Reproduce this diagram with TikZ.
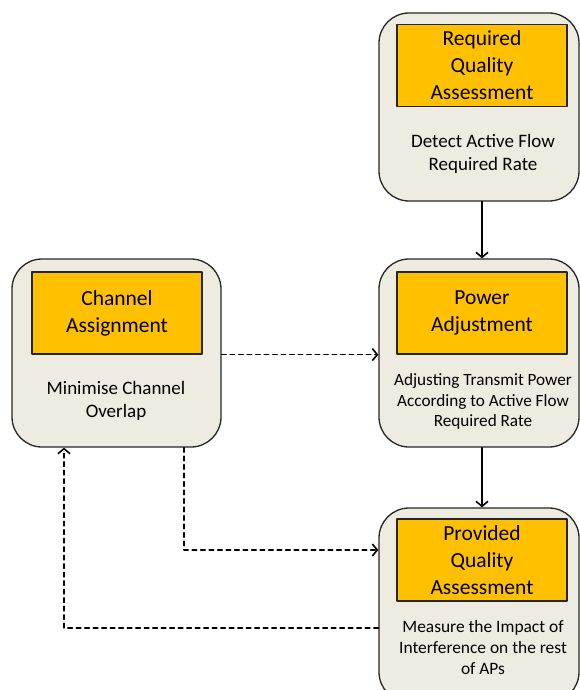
\documentclass[tikz,border=0pt]{standalone}
\usepackage{fontspec}
\setmainfont{Carlito}
\usetikzlibrary{arrows.meta}
\definecolor{panelgray}{RGB}{238,236,225}
\definecolor{headorange}{RGB}{255,192,0}

\begin{document}
\begin{tikzpicture}[line cap=round,line join=round,>={Straight Barb[length=5pt,width=12pt]},x=1pt,y=-1pt,
  panel/.style={draw=black!85,fill=panelgray,line width=1.3pt,rounded corners=30pt,minimum width=200pt,minimum height=188pt,inner sep=0pt},
  head/.style={draw=black!85,fill=headorange,line width=1.2pt,minimum width=170pt,minimum height=82pt,align=center,inner sep=0pt,font=\fontsize{21.5}{27}\selectfont},
  note/.style={align=center,inner sep=0pt,font=\fontsize{19}{23}\selectfont},
  link/.style={line width=1.6pt,->},
  dlink/.style={line width=1.6pt,->,dash pattern=on 4.5pt off 4pt}]
\useasboundingbox (0,0) rectangle (580,690);
\clip (0,0) rectangle (580,690);
\node[panel] (reqbox) at (479,107) {};
\node[head] (reqhead) at (482,65.5) {Required\\Quality\\Assessment};
\node[note] (reqnote) at (483,153.5) {Detect Active Flow\\Required Rate};
\node[panel] (powbox) at (479,353) {};
\node[head] (powhead) at (482,313) {Power\\Adjustment};
\node[note,font=\fontsize{17.2}{20.5}\selectfont] (pownote) at (483,401.5) {Adjusting Transmit Power\\According to Active Flow\\Required Rate};
\node[panel,minimum width=209pt] (chanbox) at (116.5,353) {};
\node[head] (chanhead) at (117,313) {Channel\\Assignment};
\node[note] (channote) at (116,400.5) {Minimise Channel\\Overlap};
\node[panel,minimum height=194pt] (provbox) at (479,605) {};
\node[head] (provhead) at (482,560) {Provided\\Quality\\Assessment};
\node[note,font=\fontsize{17.4}{21}\selectfont] (provnote) at (483,648) {Measure the Impact of\\Interference on the rest\\of APs};
\coordinate (chandrop) at (184,550);
\coordinate (loopcorner) at (64,628);
\draw[link] (reqbox.south -| reqhead) -- (powbox.north -| powhead);
\draw[link] (powbox.south -| powhead) -- (provbox.north -| provhead);
\draw[dlink] (chanbox.east |- chanhead.south) -- (powbox.west |- chanhead.south);
\draw[dlink] (chandrop |- chanbox.south) -- (chandrop) -- (provbox.west |- chandrop);
\draw[dlink] (provbox.west |- loopcorner) -- (loopcorner) -- (loopcorner |- chanbox.south);
\end{tikzpicture}
\end{document}
